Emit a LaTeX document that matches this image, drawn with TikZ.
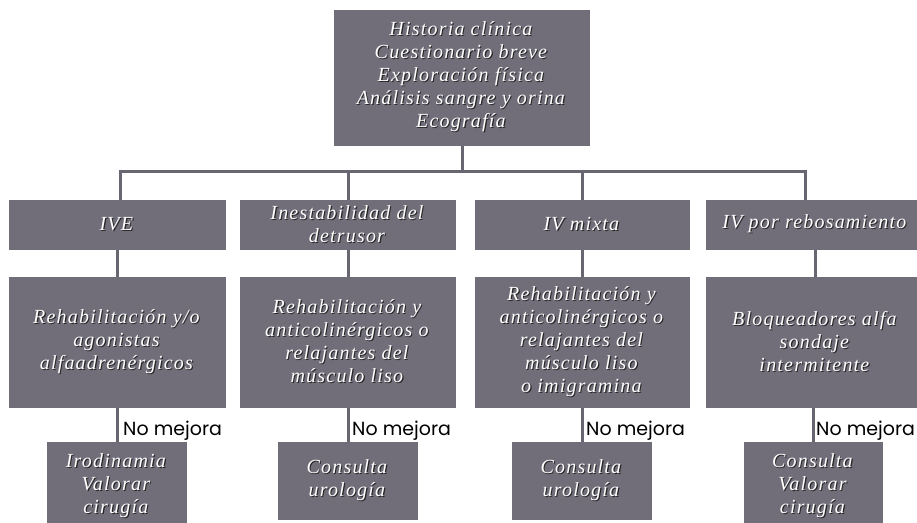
\documentclass[tikz,border=0pt]{standalone}
\usepackage{fontspec}
\usepackage{tikz}
\newfontfamily\cajafont[LetterSpace=6]{Liberation Serif}
\newfontfamily\notafont{Poppins}
\newcommand{\textocaja}{\cajafont\itshape\fontsize{20}{23}\selectfont}
\definecolor{cajagris}{RGB}{113,110,122}
\definecolor{lineagris}{RGB}{104,102,112}
\tikzset{
    caja/.style={rectangle, fill=cajagris, inner sep=0pt, align=center, text=black!85, font=\textocaja},
    brillo/.style={inner sep=0pt, align=center, text=white, font=\textocaja},
    relieve/.style={label={[brillo, shift={(-1.1pt,1.1pt)}]center:{#1}}},
    linea/.style={draw=lineagris, line width=3pt},
    nota/.style={inner sep=0pt, anchor=base west, font=\notafont\fontsize{19}{22}\selectfont}
}

\begin{document}
\begin{tikzpicture}[x=1pt,y=-1pt]
\useasboundingbox (0,0) rectangle (917,522);
\node[caja, minimum width=256pt, minimum height=136pt, relieve={Historia clínica\\Cuestionario breve\\Exploración física\\Análisis sangre y orina\\Ecografía}] (top) at (462,78) {Historia clínica\\Cuestionario breve\\Exploración física\\Análisis sangre y orina\\Ecografía};
\node[caja, minimum width=217pt, minimum height=50pt, relieve={IVE}] (r1a) at (117.5,225) {IVE};
\node[caja, minimum width=216pt, minimum height=50pt, relieve={Inestabilidad del\\detrusor}] (r1b) at (348,225) {Inestabilidad del\\detrusor};
\node[caja, minimum width=215pt, minimum height=50pt, relieve={IV mixta}] (r1c) at (582.5,225) {IV mixta};
\node[caja, minimum width=219pt, minimum height=50pt, relieve={IV por rebosamiento}] (r1d) at (815.5,225) {IV por rebosamiento};
\node[caja, minimum width=217pt, minimum height=131pt, relieve={Rehabilitación y/o\\agonistas\\alfaadrenérgicos}] (r2a) at (117.5,342.5) {Rehabilitación y/o\\agonistas\\alfaadrenérgicos};
\node[caja, minimum width=216pt, minimum height=131pt, relieve={Rehabilitación y\\anticolinérgicos o\\relajantes del\\músculo liso}] (r2b) at (348,342.5) {Rehabilitación y\\anticolinérgicos o\\relajantes del\\músculo liso};
\node[caja, minimum width=215pt, minimum height=131pt, relieve={Rehabilitación y\\anticolinérgicos o\\relajantes del\\músculo liso\\o imigramina}] (r2c) at (582.5,342.5) {Rehabilitación y\\anticolinérgicos o\\relajantes del\\músculo liso\\o imigramina};
\node[caja, minimum width=219pt, minimum height=131pt, relieve={Bloqueadores alfa\\sondaje\\intermitente}] (r2d) at (815.5,342.5) {Bloqueadores alfa\\sondaje\\intermitente};
\node[caja, minimum width=140pt, minimum height=90pt, relieve={Irodinamia\\Valorar\\cirugía}] (r3a) at (117,487) {Irodinamia\\Valorar\\cirugía};
\node[caja, minimum width=140pt, minimum height=78pt, relieve={Consulta\\urología}] (r3b) at (348,481) {Consulta\\urología};
\node[caja, minimum width=140pt, minimum height=78pt, relieve={Consulta\\urología}] (r3c) at (582,481) {Consulta\\urología};
\node[caja, minimum width=139pt, minimum height=90pt, relieve={Consulta\\Valorar\\cirugía}] (r3d) at (813.5,487) {Consulta\\Valorar\\cirugía};
\coordinate (b1) at (120,171.5);
\coordinate (b2) at (348,171.5);
\coordinate (b3) at (582,171.5);
\coordinate (b4) at (805,171.5);
\draw[linea] (top.south) -- (top.south |- b1);
\draw[linea] (b1 |- r1a.north) -- (b1) -- (b4) -- (b4 |- r1d.north);
\draw[linea] (b2) -- (b2 |- r1b.north);
\draw[linea] (b3) -- (b3 |- r1c.north);
\draw[linea] (r1a.south) -- (r2a.north);
\draw[linea] (r1b.south) -- (r2b.north);
\draw[linea] (r1c.south) -- (r2c.north);
\draw[linea] (r1d.south) -- (r2d.north);
\draw[linea] (r3a.north |- r2a.south) -- (r3a.north);
\draw[linea] (r2b.south) -- (r3b.north);
\draw[linea] (r3c.north |- r2c.south) -- (r3c.north);
\draw[linea] (r3d.north |- r2d.south) -- (r3d.north);
\node[nota] (nm1) at (123,435) {No mejora};
\node[nota] (nm2) at (352,435) {No mejora};
\node[nota] (nm3) at (586,435) {No mejora};
\node[nota] (nm4) at (816,435) {No mejora};
\end{tikzpicture}
\end{document}
